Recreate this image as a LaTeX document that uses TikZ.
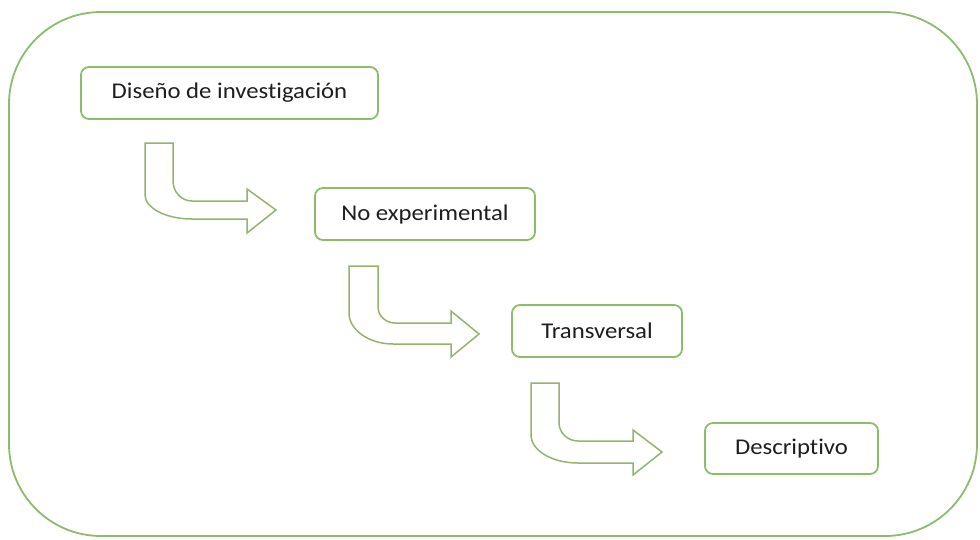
\documentclass[tikz,border=0pt]{standalone}
\usepackage{fontspec}
\setmainfont{Carlito}[Ligatures=NoCommon, RawFeature={-liga;-clig;-calt;-dlig}]
\definecolor{boxgreen}{RGB}{140,190,105}
\definecolor{arrowgreen}{RGB}{148,180,108}
\definecolor{framegreen}{RGB}{140,188,110}
\definecolor{txtgray}{RGB}{30,30,30}
\tikzset{
  stepbox/.style={draw=boxgreen, line width=1.8pt, rounded corners=8pt, fill=white,
    inner sep=0pt, minimum height=52pt, text=txtgray,
    font=\fontsize{22.5}{26}\selectfont},
  bentarrow/.style={draw=arrowgreen, line width=1.5pt, fill=white, line join=miter},
  outerframe/.style={draw=framegreen, line width=1.8pt, rounded corners=92pt}
}
\newcommand{\wtext}[1]{\scalebox{1.1}[1]{#1}}
\begin{document}
\begin{tikzpicture}[x=1pt,y=-1pt]
\useasboundingbox (0,0) rectangle (980,539);
\draw[outerframe] (9,12) rectangle (977,536);

\node[stepbox, minimum width=297pt, minimum height=52pt] (d1) at (229.5,93) {\wtext{Diseño de investigación}};
\node[stepbox, minimum width=220pt, minimum height=52pt] (d2) at (425,214) {\wtext{No experimental}};
\node[stepbox, minimum width=170pt, minimum height=52pt] (d3) at (597,331) {\wtext{Transversal}};
\node[stepbox, minimum width=173pt, minimum height=51pt] (d4) at (791.5,448.5) {\wtext{Descriptivo}};

\draw[bentarrow] (145,143) -- (173,143) -- (173,181)
  .. controls (173,192) and (181.5,201) .. (192,201) -- (247,201) -- (247,189)
  -- (276,210) -- (247,233) -- (247,219) -- (192,219)
  .. controls (166,219) and (145,208) .. (145,195) -- cycle;

\draw[bentarrow] (349,266) -- (378,266) -- (378,307)
  .. controls (378,316) and (386,323) .. (395,323) -- (451,323) -- (451,311)
  -- (479,334) -- (451,357) -- (451,344) -- (393,344)
  .. controls (369,344) and (349,330) .. (349,313) -- cycle;

\draw[bentarrow] (531,383) -- (559,383) -- (559,423)
  .. controls (559,433) and (568,441) .. (578,441) -- (633,441) -- (633,430)
  -- (662,452) -- (633,475) -- (633,463) -- (578,463)
  .. controls (552,463) and (531,450.5) .. (531,435) -- cycle;
\end{tikzpicture}
\end{document}
